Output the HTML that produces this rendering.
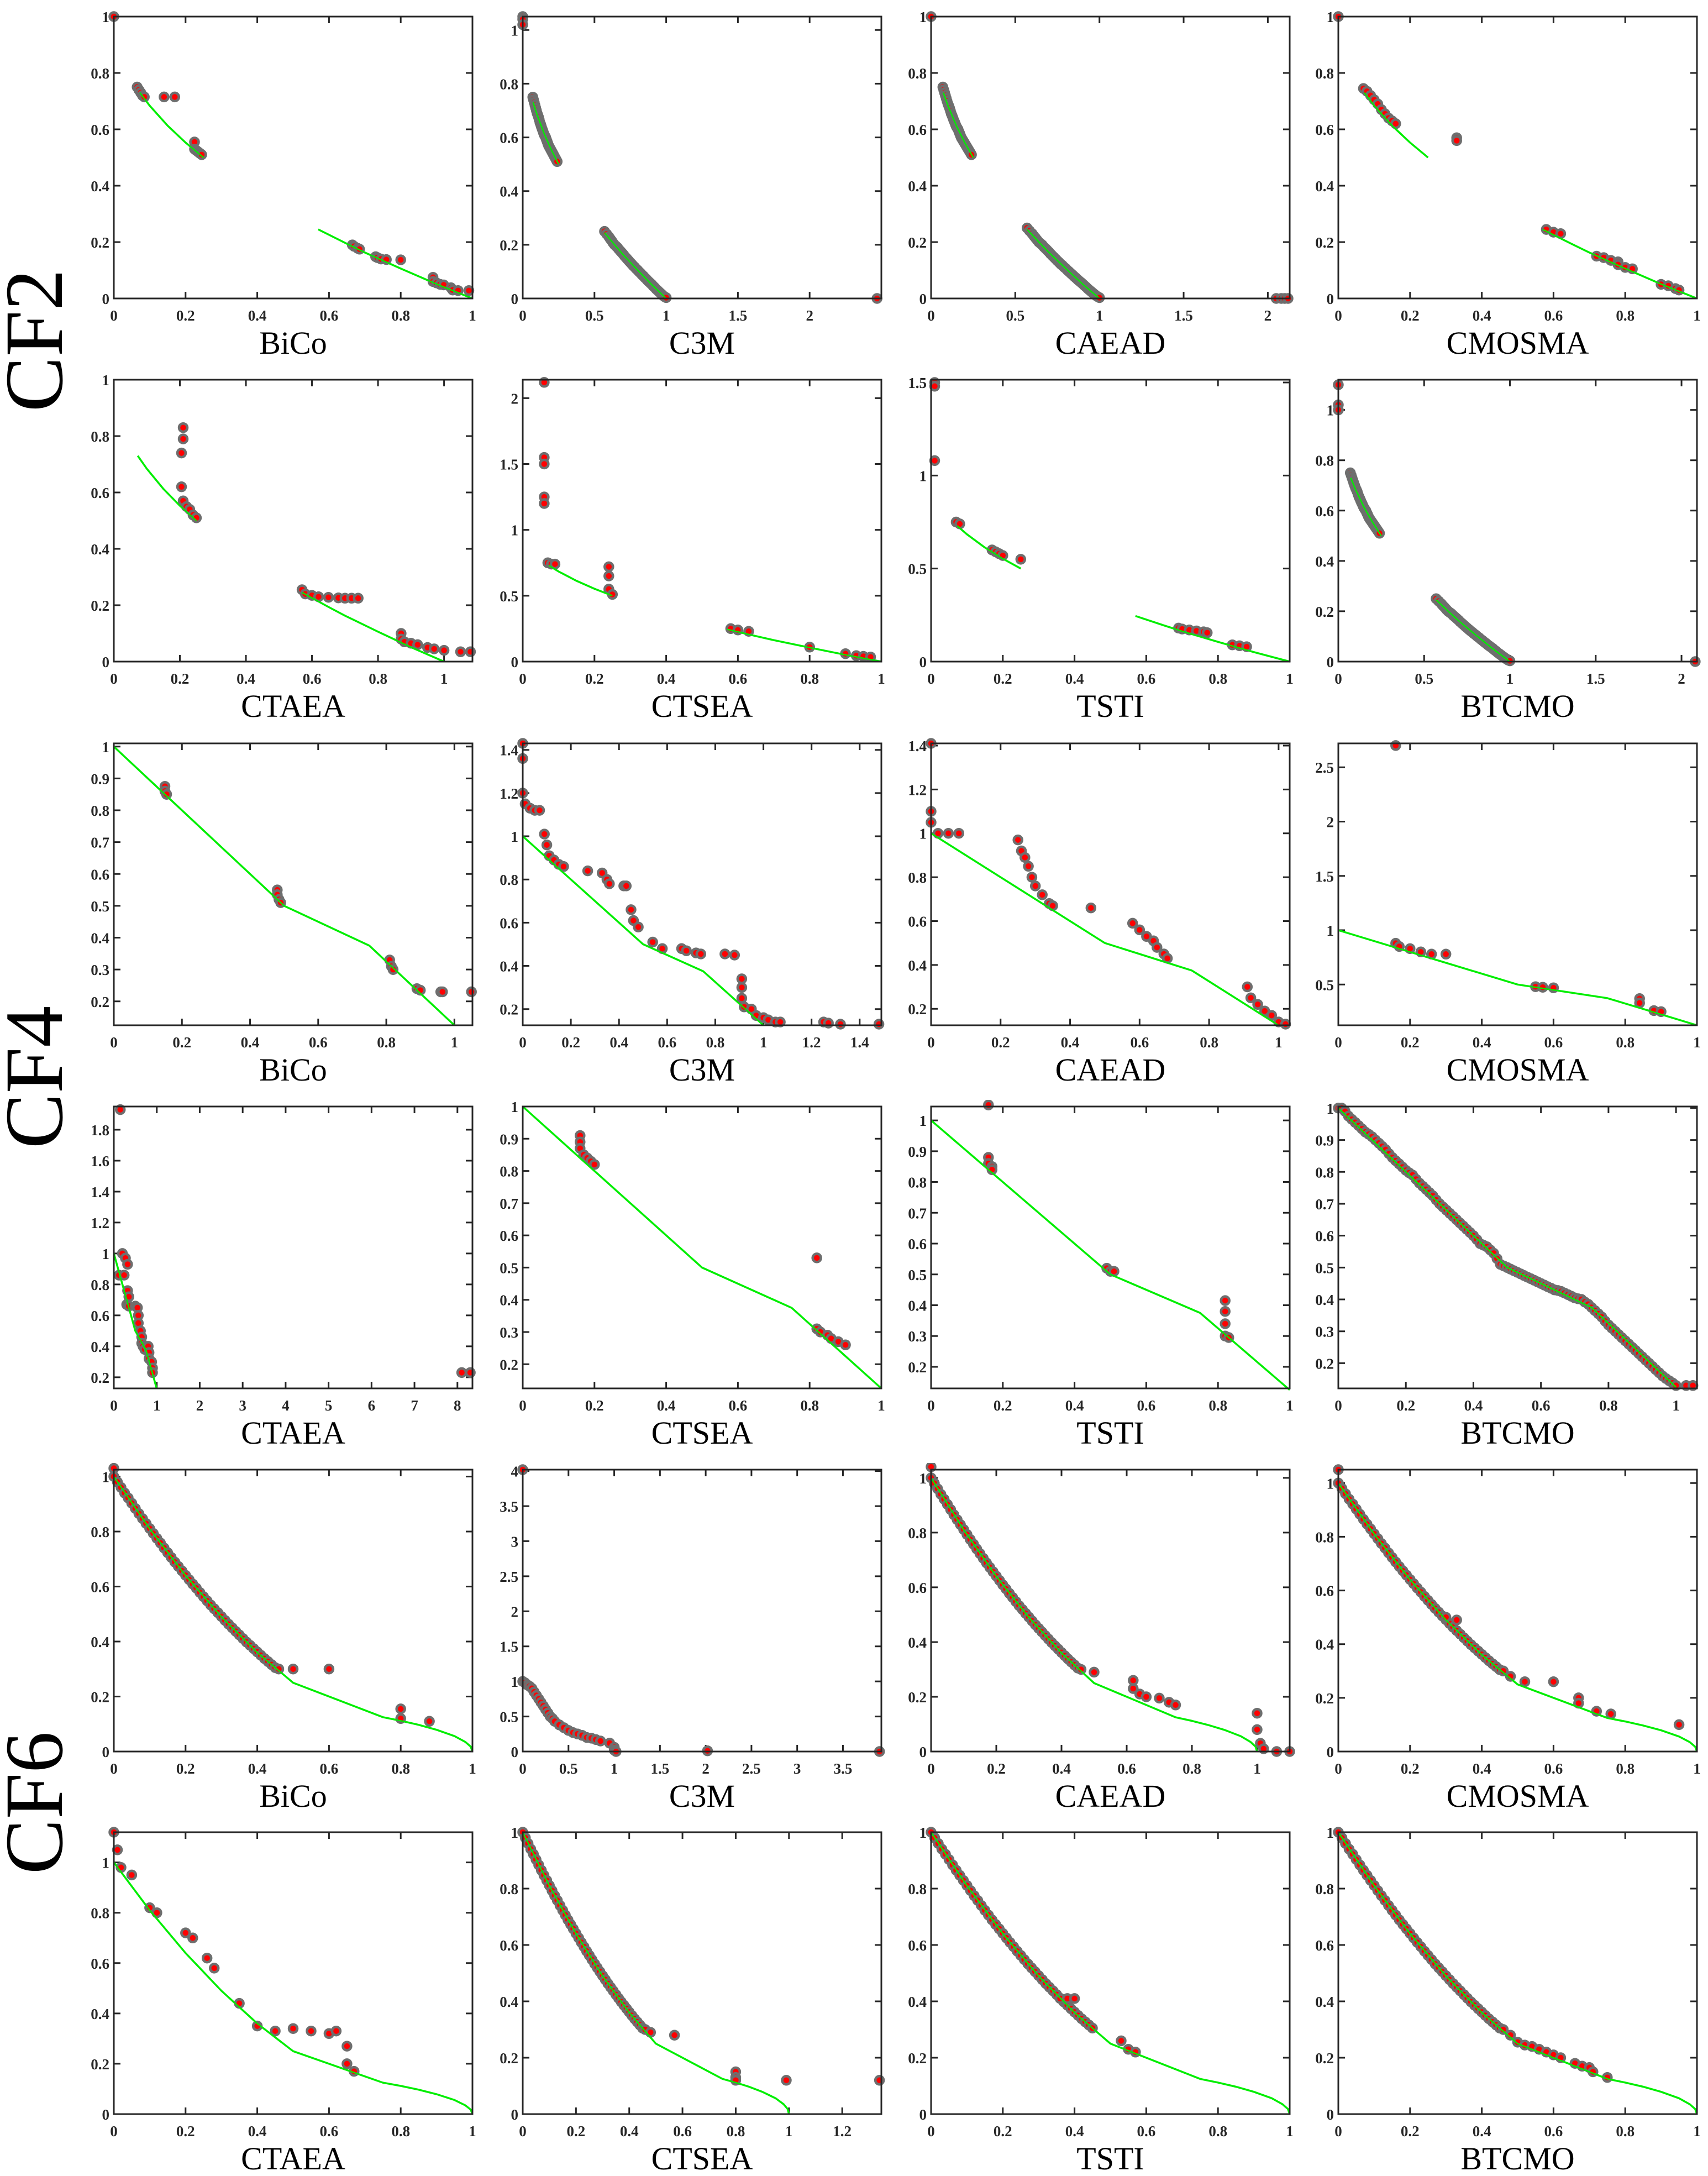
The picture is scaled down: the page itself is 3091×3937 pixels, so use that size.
<!DOCTYPE html>
<html><head><meta charset="utf-8">
<style>
html,body{margin:0;padding:0;background:#fff;}
svg{display:block;}
.tk{font-family:"Liberation Serif",serif;font-weight:bold;font-size:27px;fill:#262626;}
.al{font-family:"Liberation Serif",serif;font-size:58px;fill:#000;}
.rl{font-family:"Liberation Serif",serif;font-size:150px;fill:#000;}
</style></head>
<body>
<svg id="fig" width="3091" height="3937" viewBox="0 0 3091 3937" xmlns="http://www.w3.org/2000/svg">
<text class="rl" transform="translate(112,616) rotate(-90)" text-anchor="middle">CF2</text>
<text class="rl" transform="translate(112,1949) rotate(-90)" text-anchor="middle">CF4</text>
<text class="rl" transform="translate(112,3262) rotate(-90)" text-anchor="middle">CF6</text>
</svg>
<script>
// ---- true Pareto fronts ----
const cf2SegA=[[0.0725,0.73],[0.1,0.684],[0.15,0.613],[0.2,0.553],[0.25,0.5]];
const cf2SegB=[[0.57,0.245],[0.65,0.194],[0.7,0.163],[0.8,0.106],[0.9,0.051],[1,0]];
const cf4Front=[[0,1],[0.5,0.5],[0.75,0.375],[1,0.125]];
const cf6Front=[[0,1],[0.1,0.81],[0.2,0.64],[0.3,0.49],[0.4,0.36],[0.5,0.25],[0.75,0.125],[0.8,0.112],[0.85,0.097],[0.9,0.079],[0.95,0.056],[0.98,0.035],[0.995,0.018],[1,0]];
// ---- dense populations ----
const cf2DenseA=[[0.07,0.75],[0.075,0.74],[0.08,0.73],[0.085,0.72],[0.09,0.71],[0.095,0.7],[0.1,0.69],[0.105,0.683],[0.11,0.675],[0.115,0.665],[0.12,0.655],[0.125,0.648],[0.13,0.64],[0.135,0.632],[0.14,0.625],[0.145,0.617],[0.15,0.61],[0.155,0.605],[0.16,0.6],[0.165,0.592],[0.17,0.585],[0.175,0.577],[0.18,0.57],[0.185,0.565],[0.19,0.56],[0.195,0.555],[0.2,0.55],[0.205,0.545],[0.21,0.54],[0.215,0.535],[0.22,0.53],[0.225,0.525],[0.23,0.52],[0.235,0.515],[0.24,0.51]];
const cf2DenseB=[[0.57,0.25],[0.585,0.24],[0.6,0.23],[0.61,0.222],[0.62,0.215],[0.63,0.207],[0.64,0.2],[0.65,0.195],[0.66,0.19],[0.67,0.183],[0.68,0.177],[0.69,0.171],[0.7,0.165],[0.71,0.158],[0.72,0.152],[0.73,0.146],[0.74,0.14],[0.75,0.134],[0.76,0.128],[0.77,0.122],[0.78,0.117],[0.79,0.111],[0.8,0.106],[0.81,0.1],[0.82,0.095],[0.83,0.089],[0.84,0.084],[0.85,0.078],[0.86,0.073],[0.87,0.067],[0.88,0.062],[0.89,0.057],[0.9,0.052],[0.91,0.046],[0.92,0.041],[0.93,0.035],[0.94,0.03],[0.95,0.025],[0.96,0.02],[0.97,0.015],[0.98,0.01],[0.99,0.006],[1,0.003]];
const cf4Dense=[[0,1],[0.01,1],[0.02,0.99],[0.03,0.975],[0.04,0.965],[0.05,0.955],[0.06,0.945],[0.07,0.935],[0.08,0.925],[0.09,0.918],[0.1,0.91],[0.11,0.9],[0.12,0.89],[0.13,0.88],[0.14,0.87],[0.15,0.857],[0.16,0.845],[0.17,0.835],[0.18,0.825],[0.19,0.815],[0.2,0.805],[0.21,0.797],[0.22,0.79],[0.23,0.777],[0.24,0.765],[0.25,0.755],[0.26,0.745],[0.27,0.735],[0.28,0.725],[0.29,0.712],[0.3,0.7],[0.31,0.69],[0.32,0.68],[0.33,0.67],[0.34,0.66],[0.35,0.65],[0.36,0.64],[0.37,0.63],[0.38,0.62],[0.39,0.61],[0.4,0.6],[0.41,0.588],[0.42,0.575],[0.43,0.57],[0.44,0.565],[0.45,0.555],[0.46,0.545],[0.47,0.528],[0.48,0.51],[0.49,0.505],[0.5,0.5],[0.51,0.495],[0.52,0.49],[0.53,0.485],[0.54,0.48],[0.55,0.475],[0.56,0.47],[0.57,0.465],[0.58,0.46],[0.59,0.455],[0.6,0.45],[0.61,0.445],[0.62,0.44],[0.63,0.435],[0.64,0.43],[0.65,0.428],[0.66,0.425],[0.67,0.42],[0.68,0.415],[0.69,0.41],[0.7,0.405],[0.71,0.402],[0.72,0.4],[0.73,0.392],[0.74,0.385],[0.75,0.375],[0.76,0.365],[0.77,0.355],[0.78,0.345],[0.79,0.332],[0.8,0.32],[0.81,0.31],[0.82,0.3],[0.83,0.29],[0.84,0.28],[0.85,0.27],[0.86,0.26],[0.87,0.25],[0.88,0.24],[0.89,0.23],[0.9,0.22],[0.91,0.21],[0.92,0.2],[0.93,0.19],[0.94,0.18],[0.95,0.17],[0.96,0.16],[0.97,0.152],[0.98,0.145],[0.99,0.138],[1,0.13],[1.03,0.13],[1.05,0.13]];
const cf6Dense=[[0,1],[0.01,0.98],[0.02,0.96],[0.03,0.94],[0.04,0.922],[0.05,0.903],[0.06,0.884],[0.07,0.865],[0.08,0.847],[0.09,0.829],[0.1,0.811],[0.11,0.793],[0.12,0.775],[0.13,0.758],[0.14,0.74],[0.15,0.723],[0.16,0.706],[0.17,0.689],[0.18,0.673],[0.19,0.657],[0.2,0.641],[0.21,0.625],[0.22,0.609],[0.23,0.594],[0.24,0.578],[0.25,0.563],[0.26,0.548],[0.27,0.533],[0.28,0.519],[0.29,0.505],[0.3,0.491],[0.31,0.477],[0.32,0.463],[0.33,0.45],[0.34,0.437],[0.35,0.424],[0.36,0.411],[0.37,0.398],[0.38,0.386],[0.39,0.374],[0.4,0.362],[0.41,0.35],[0.42,0.338],[0.43,0.327],[0.44,0.316],[0.45,0.305]];
// ---- per-panel points ----
const cf2BiCo=[[0,1],[0.065,0.75],[0.07,0.74],[0.075,0.73],[0.08,0.72],[0.085,0.715],[0.14,0.715],[0.17,0.715],[0.225,0.555],[0.225,0.53],[0.23,0.525],[0.235,0.52],[0.24,0.515],[0.245,0.51],[0.665,0.19],[0.67,0.185],[0.68,0.178],[0.685,0.175],[0.73,0.148],[0.735,0.145],[0.745,0.14],[0.76,0.138],[0.8,0.137],[0.89,0.075],[0.89,0.06],[0.9,0.055],[0.91,0.05],[0.92,0.048],[0.94,0.038],[0.945,0.03],[0.96,0.028],[0.99,0.028]];
const cf2C3M=[[0,1.05],[0,1.04],[0,1.02],[2.47,0]];
const cf2CAEAD=[[0,1.0],[2.05,0],[2.08,0],[2.1,0],[2.12,0]];
const cf2CMOSMA=[[0,1],[0.07,0.745],[0.08,0.735],[0.09,0.72],[0.1,0.705],[0.11,0.69],[0.12,0.67],[0.13,0.655],[0.14,0.64],[0.15,0.63],[0.16,0.62],[0.33,0.57],[0.33,0.56],[0.58,0.245],[0.6,0.235],[0.62,0.23],[0.72,0.15],[0.74,0.145],[0.76,0.135],[0.78,0.13],[0.78,0.12],[0.8,0.11],[0.82,0.105],[0.9,0.05],[0.92,0.045],[0.94,0.035],[0.95,0.03]];
const cf2CTAEA=[[0.21,0.83],[0.21,0.79],[0.205,0.74],[0.205,0.62],[0.21,0.57],[0.22,0.55],[0.23,0.54],[0.24,0.52],[0.25,0.51],[0.57,0.255],[0.58,0.24],[0.6,0.235],[0.62,0.23],[0.65,0.228],[0.68,0.226],[0.7,0.225],[0.72,0.225],[0.74,0.225],[0.87,0.1],[0.87,0.08],[0.88,0.07],[0.9,0.065],[0.92,0.06],[0.95,0.05],[0.97,0.045],[1,0.04],[1.05,0.035],[1.08,0.035]];
const cf2CTSEA=[[0.06,2.12],[0.06,1.55],[0.06,1.5],[0.06,1.25],[0.06,1.2],[0.07,0.75],[0.08,0.74],[0.09,0.74],[0.24,0.72],[0.24,0.65],[0.24,0.55],[0.25,0.51],[0.58,0.25],[0.6,0.24],[0.63,0.23],[0.8,0.11],[0.9,0.06],[0.93,0.045],[0.95,0.04],[0.97,0.035]];
const cf2TSTI=[[0.01,1.5],[0.01,1.48],[0.01,1.08],[0.07,0.75],[0.08,0.74],[0.17,0.6],[0.18,0.59],[0.19,0.58],[0.2,0.57],[0.25,0.55],[0.69,0.18],[0.7,0.175],[0.72,0.17],[0.74,0.165],[0.76,0.16],[0.77,0.155],[0.84,0.09],[0.86,0.085],[0.88,0.08]];
const cf2BTCMO=[[0,1.1],[0,1.02],[0,1.0],[2.08,0]];
const cf4BiCo=[[0.15,0.875],[0.15,0.86],[0.155,0.85],[0.48,0.55],[0.48,0.535],[0.485,0.52],[0.49,0.51],[0.81,0.33],[0.815,0.31],[0.82,0.3],[0.89,0.24],[0.9,0.235],[0.96,0.23],[0.965,0.23],[1.05,0.23]];
const cf4C3M=[[0,1.43],[0,1.36],[0,1.2],[0.01,1.15],[0.03,1.13],[0.05,1.12],[0.07,1.12],[0.09,1.01],[0.1,0.96],[0.11,0.91],[0.13,0.89],[0.15,0.87],[0.17,0.86],[0.27,0.84],[0.33,0.83],[0.35,0.8],[0.36,0.78],[0.42,0.77],[0.43,0.77],[0.45,0.66],[0.46,0.61],[0.48,0.58],[0.54,0.51],[0.58,0.48],[0.66,0.48],[0.68,0.47],[0.72,0.46],[0.74,0.455],[0.84,0.455],[0.88,0.45],[0.91,0.34],[0.91,0.3],[0.91,0.25],[0.92,0.21],[0.95,0.2],[0.97,0.17],[1.0,0.16],[1.02,0.15],[1.05,0.14],[1.07,0.14],[1.25,0.14],[1.27,0.135],[1.32,0.13],[1.48,0.13]];
const cf4CAEAD=[[0,1.41],[0,1.1],[0,1.05],[0.02,1.0],[0.05,1.0],[0.08,1.0],[0.25,0.97],[0.26,0.92],[0.27,0.89],[0.28,0.85],[0.29,0.8],[0.3,0.76],[0.32,0.72],[0.34,0.68],[0.35,0.67],[0.46,0.66],[0.58,0.59],[0.6,0.56],[0.62,0.53],[0.64,0.51],[0.65,0.48],[0.67,0.45],[0.68,0.43],[0.91,0.3],[0.92,0.25],[0.94,0.22],[0.96,0.19],[0.98,0.17],[1.0,0.14],[1.02,0.13]];
const cf4CMOSMA=[[0.16,2.7],[0.16,0.88],[0.17,0.85],[0.2,0.83],[0.23,0.8],[0.26,0.78],[0.3,0.78],[0.55,0.48],[0.57,0.475],[0.6,0.47],[0.84,0.37],[0.84,0.33],[0.88,0.26],[0.9,0.25]];
const cf4CTAEA=[[0.15,1.93],[0.2,1.0],[0.27,0.97],[0.32,0.93],[0.12,0.86],[0.24,0.86],[0.32,0.76],[0.35,0.72],[0.3,0.67],[0.35,0.66],[0.5,0.66],[0.55,0.65],[0.57,0.6],[0.57,0.55],[0.62,0.5],[0.65,0.46],[0.65,0.42],[0.68,0.4],[0.72,0.38],[0.8,0.4],[0.82,0.36],[0.82,0.32],[0.88,0.3],[0.9,0.26],[0.9,0.23],[8.1,0.23],[8.3,0.23]];
const cf4CTSEA=[[0.16,0.91],[0.16,0.89],[0.16,0.87],[0.17,0.85],[0.18,0.84],[0.19,0.83],[0.2,0.82],[0.82,0.53],[0.82,0.31],[0.83,0.3],[0.85,0.29],[0.86,0.28],[0.88,0.27],[0.9,0.26]];
const cf4TSTI=[[0.16,1.05],[0.16,0.88],[0.16,0.86],[0.17,0.85],[0.17,0.84],[0.49,0.52],[0.5,0.51],[0.51,0.51],[0.82,0.415],[0.82,0.38],[0.82,0.34],[0.82,0.3],[0.83,0.295]];
const cf6BiCo=[[0,1.03],[0.46,0.3],[0.5,0.3],[0.6,0.3],[0.8,0.155],[0.8,0.12],[0.88,0.11]];
const cf6C3M=[[0,4.02],[0,1],[0.025,0.98],[0.05,0.95],[0.075,0.93],[0.1,0.9],[0.125,0.85],[0.15,0.8],[0.175,0.75],[0.2,0.7],[0.225,0.65],[0.25,0.6],[0.275,0.55],[0.3,0.5],[0.325,0.47],[0.35,0.43],[0.4,0.38],[0.45,0.34],[0.5,0.3],[0.55,0.27],[0.6,0.25],[0.65,0.23],[0.7,0.2],[0.75,0.19],[0.8,0.17],[0.85,0.15],[0.95,0.12],[1,0.06],[1,0.02],[1.02,0],[2.02,0.01],[3.9,0]];
const cf6CAEAD=[[0,1.04],[0.46,0.3],[0.5,0.29],[0.62,0.26],[0.62,0.23],[0.64,0.21],[0.66,0.2],[0.7,0.195],[0.73,0.18],[0.75,0.17],[1.0,0.14],[1.0,0.08],[1.01,0.03],[1.02,0.01],[1.06,0.0],[1.1,0.0]];
const cf6CMOSMA=[[0,1.05],[0.3,0.5],[0.33,0.49],[0.46,0.3],[0.48,0.28],[0.52,0.26],[0.6,0.26],[0.67,0.2],[0.67,0.18],[0.72,0.15],[0.76,0.14],[0.95,0.1]];
const cf6CTAEA=[[0,1.12],[0.01,1.05],[0.02,0.98],[0.05,0.95],[0.1,0.82],[0.12,0.8],[0.2,0.72],[0.22,0.7],[0.26,0.62],[0.28,0.58],[0.35,0.44],[0.4,0.35],[0.45,0.33],[0.5,0.34],[0.55,0.33],[0.6,0.32],[0.62,0.33],[0.65,0.27],[0.65,0.2],[0.67,0.17]];
const cf6CTSEA=[[0.46,0.3],[0.48,0.29],[0.57,0.28],[0.8,0.15],[0.8,0.13],[0.8,0.12],[0.99,0.12],[1.34,0.12]];
const cf6TSTI=[[0.36,0.41],[0.38,0.41],[0.4,0.41],[0.53,0.26],[0.55,0.23],[0.57,0.22]];
const cf6BTCMO=[[0.46,0.3],[0.48,0.28],[0.5,0.255],[0.52,0.245],[0.54,0.24],[0.56,0.23],[0.58,0.22],[0.6,0.21],[0.62,0.2],[0.66,0.18],[0.68,0.17],[0.7,0.165],[0.71,0.15],[0.75,0.13]];
// ---- tick arrays ----
const t01=[0,0.2,0.4,0.6,0.8,1];
const t0to2=[0,0.5,1,1.5,2];
const t0to14=[0,0.2,0.4,0.6,0.8,1,1.2,1.4];
const t0to12=[0,0.2,0.4,0.6,0.8,1,1.2];
const tTenths=[0.2,0.3,0.4,0.5,0.6,0.7,0.8,0.9,1];
const tC3My=[0.2,0.4,0.6,0.8,1,1.2,1.4];
const tCMy=[0.5,1,1.5,2,2.5];
const tCTy=[0.2,0.4,0.6,0.8,1,1.2,1.4,1.6,1.8];
const t0to8=[0,1,2,3,4,5,6,7,8];
const t0to35=[0,0.5,1,1.5,2,2.5,3,3.5];
const t0to4=[0,0.5,1,1.5,2,2.5,3,3.5,4];
const t0to15=[0,0.5,1,1.5];

const colL=[206,946,1685,2422], rowT=[30,687,1345,2002,2659,3315], PW=649, PH=510;
const panels=[
 {n:'BiCo',f:'cf2',r:0,c:0,x:[0,1],y:[0,1],xt:t01,yt:t01,pf:[cf2SegA,cf2SegB],pts:[cf2BiCo]},
 {n:'C3M',f:'cf2',r:0,c:1,x:[0,2.5],y:[0,1.05],xt:t0to2,yt:t01,pf:[cf2SegA,cf2SegB],pts:[cf2DenseA,cf2DenseB,cf2C3M]},
 {n:'CAEAD',f:'cf2',r:0,c:2,x:[0,2.13],y:[0,1.0],xt:t0to2,yt:t01,pf:[cf2SegA,cf2SegB],pts:[cf2DenseA,cf2DenseB,cf2CAEAD]},
 {n:'CMOSMA',f:'cf2',r:0,c:3,x:[0,1],y:[0,1],xt:t01,yt:t01,pf:[cf2SegA,cf2SegB],pts:[cf2CMOSMA]},
 {n:'CTAEA',f:'cf2',r:1,c:0,x:[0,1.086],y:[0,1],xt:t01,yt:t01,pf:[cf2SegA,cf2SegB],pts:[cf2CTAEA]},
 {n:'CTSEA',f:'cf2',r:1,c:1,x:[0,1],y:[0,2.14],xt:t01,yt:t0to2,pf:[cf2SegA,cf2SegB],pts:[cf2CTSEA]},
 {n:'TSTI',f:'cf2',r:1,c:2,x:[0,1],y:[0,1.515],xt:t01,yt:t0to15,pf:[cf2SegA,cf2SegB],pts:[cf2TSTI]},
 {n:'BTCMO',f:'cf2',r:1,c:3,x:[0,2.09],y:[0,1.12],xt:t0to2,yt:t01,pf:[cf2SegA,cf2SegB],pts:[cf2DenseA,cf2DenseB,cf2BTCMO]},
 {n:'BiCo',f:'cf4',r:2,c:0,x:[0,1.053],y:[0.125,1.01],xt:t01,yt:tTenths,pf:[cf4Front],pts:[cf4BiCo]},
 {n:'C3M',f:'cf4',r:2,c:1,x:[0,1.49],y:[0.125,1.43],xt:t0to14,yt:tC3My,pf:[cf4Front],pts:[cf4C3M]},
 {n:'CAEAD',f:'cf4',r:2,c:2,x:[0,1.032],y:[0.125,1.41],xt:t01,yt:tC3My,pf:[cf4Front],pts:[cf4CAEAD]},
 {n:'CMOSMA',f:'cf4',r:2,c:3,x:[0,1],y:[0.125,2.72],xt:t01,yt:tCMy,pf:[cf4Front],pts:[cf4CMOSMA]},
 {n:'CTAEA',f:'cf4',r:3,c:0,x:[0,8.35],y:[0.128,1.95],xt:t0to8,yt:tCTy,pf:[cf4Front],pts:[cf4CTAEA]},
 {n:'CTSEA',f:'cf4',r:3,c:1,x:[0,1],y:[0.125,1.0],xt:t01,yt:tTenths,pf:[cf4Front],pts:[cf4CTSEA]},
 {n:'TSTI',f:'cf4',r:3,c:2,x:[0,1],y:[0.13,1.045],xt:t01,yt:tTenths,pf:[cf4Front],pts:[cf4TSTI]},
 {n:'BTCMO',f:'cf4',r:3,c:3,x:[0,1.062],y:[0.121,1.005],xt:t01,yt:tTenths,pf:[cf4Front],pts:[cf4Dense]},
 {n:'BiCo',f:'cf6',r:4,c:0,x:[0,1],y:[0,1.025],xt:t01,yt:t01,pf:[cf6Front],pts:[cf6Dense,cf6BiCo]},
 {n:'C3M',f:'cf6',r:4,c:1,x:[0,3.92],y:[0,4.02],xt:t0to35,yt:t0to4,pf:[],pts:[cf6C3M]},
 {n:'CAEAD',f:'cf6',r:4,c:2,x:[0,1.1],y:[0,1.03],xt:t01,yt:t01,pf:[cf6Front],pts:[cf6Dense,cf6CAEAD]},
 {n:'CMOSMA',f:'cf6',r:4,c:3,x:[0,1],y:[0,1.05],xt:t01,yt:t01,pf:[cf6Front],pts:[cf6Dense,cf6CMOSMA]},
 {n:'CTAEA',f:'cf6',r:5,c:0,x:[0,1],y:[0,1.12],xt:t01,yt:t01,pf:[cf6Front],pts:[cf6CTAEA]},
 {n:'CTSEA',f:'cf6',r:5,c:1,x:[0,1.347],y:[0,1],xt:t0to12,yt:t01,pf:[cf6Front],pts:[cf6Dense,cf6CTSEA]},
 {n:'TSTI',f:'cf6',r:5,c:2,x:[0,1],y:[0,1],xt:t01,yt:t01,pf:[cf6Front],pts:[cf6Dense,cf6TSTI]},
 {n:'BTCMO',f:'cf6',r:5,c:3,x:[0,1],y:[0,1],xt:t01,yt:t01,pf:[cf6Front],pts:[cf6Dense,cf6BTCMO]}
];
const NS='http://www.w3.org/2000/svg';
const svg=document.getElementById('fig');
function mk(tag,attrs,parent){const e=document.createElementNS(NS,tag);for(const k in attrs)e.setAttribute(k,attrs[k]);parent.appendChild(e);return e;}
function fmt(v){return String(Math.round(v*100)/100);}
panels.forEach(function(p){
  const L=colL[p.c], T=rowT[p.r];
  const sx=v=>L+(v-p.x[0])/(p.x[1]-p.x[0])*PW;
  const sy=v=>T+PH-(v-p.y[0])/(p.y[1]-p.y[0])*PH;
  const g=mk('g',{},svg);
  
  
  const cid='clip'+p.r+'_'+p.c;
  const cp=mk('clipPath',{id:cid},g);
  mk('rect',{x:L-12,y:T-12,width:PW+24,height:PH+24},cp);
  p.xt.forEach(function(v){
    const X=sx(v);
    const tl=mk('path',{d:'M'+X+' '+(T+PH)+'v-12M'+X+' '+T+'v12',stroke:'#262626','stroke-width':3},g);
    
    
    const t=mk('text',{x:X,y:T+PH+40,'text-anchor':'middle',class:'tk'},g);
    
    
    t.textContent=fmt(v);
  });
  p.yt.forEach(function(v){
    const Y=sy(v);
    const tl=mk('path',{d:'M'+L+' '+Y+'h12M'+(L+PW)+' '+Y+'h-12',stroke:'#262626','stroke-width':3},g);
    
    
    const t=mk('text',{x:L-8,y:Y+10,'text-anchor':'end',class:'tk'},g);
    
    
    t.textContent=fmt(v);
  });
  const cg=mk('g',{'clip-path':'url(#'+cid+')'},g);
  p.pf.forEach(function(seg){
    const d=seg.map((q,i)=>(i?'L':'M')+sx(q[0]).toFixed(1)+' '+sy(q[1]).toFixed(1)).join('');
    const pl=mk('path',{d:d,fill:'none',stroke:'#00ee00','stroke-width':3.5},cg);
    
    
  });
  p.pts.forEach(function(arr){
    arr.forEach(function(q){
      const c=mk('circle',{cx:sx(q[0]).toFixed(1),cy:sy(q[1]).toFixed(1),r:7.5,fill:'#ff0000',stroke:'#6e6e6e','stroke-width':4.5},cg);
      
      
    });
  });
  p.pf.forEach(function(seg){
    const d=seg.map((q,i)=>(i?'L':'M')+sx(q[0]).toFixed(1)+' '+sy(q[1]).toFixed(1)).join('');
    const pl=mk('path',{d:d,fill:'none',stroke:'#00ee00','stroke-width':2.5},cg);
    
    
  });
  const fr=mk('rect',{x:L,y:T,width:PW,height:PH,fill:'none',stroke:'#262626','stroke-width':3},g);
  
  
  const lab=mk('text',{x:L+PW/2,y:T+PH+100,'text-anchor':'middle',class:'al'},g);
  
  
  lab.textContent=p.n;
});
</script>
</body></html>
